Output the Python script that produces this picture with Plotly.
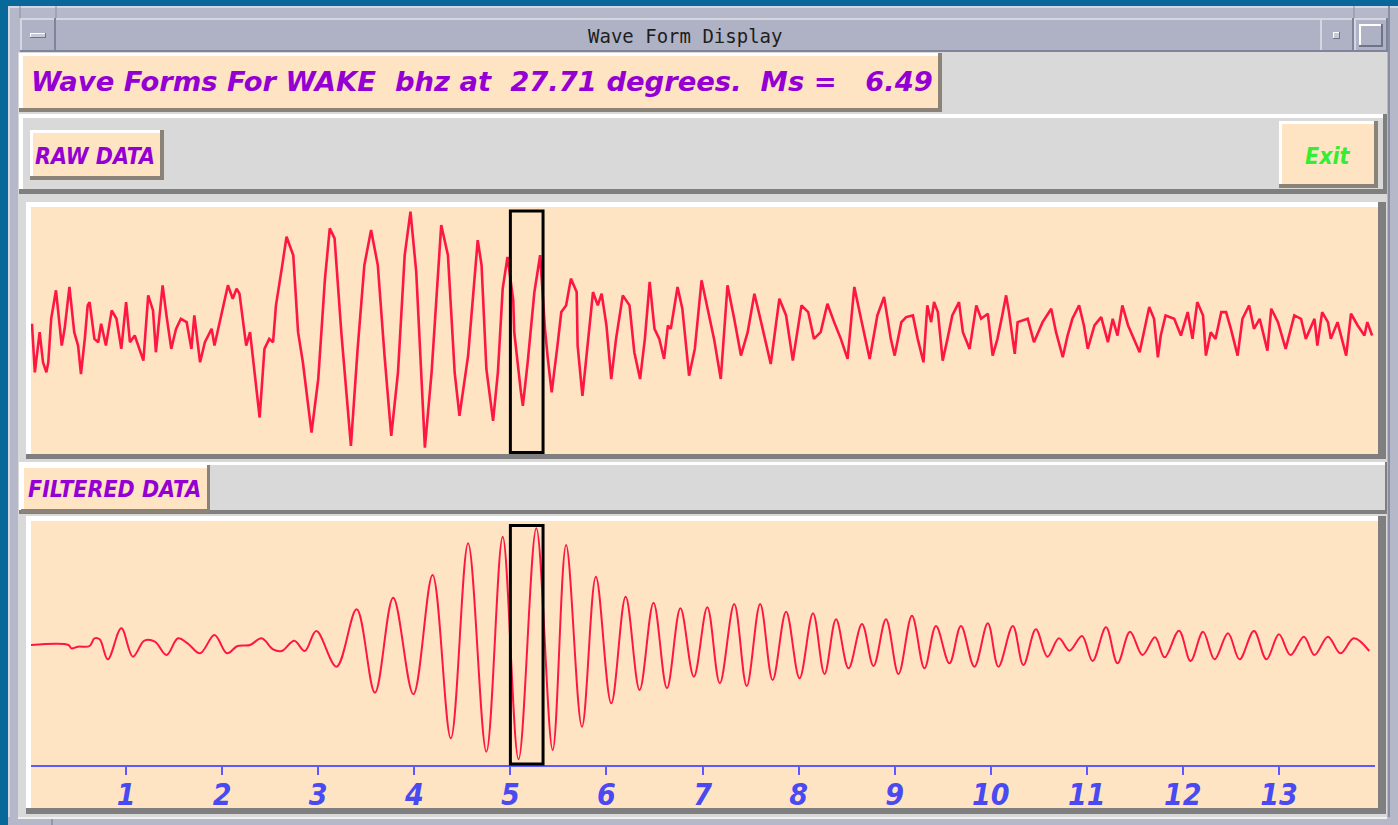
import plotly.graph_objects as go

# ---------------- data ----------------
# time in minutes, amplitude in arbitrary counts
raw_t = [0.02, 0.05, 0.10, 0.135, 0.17, 0.19, 0.22, 0.27, 0.33, 0.36, 0.41, 0.46, 0.50, 0.53, 0.57,
         0.60, 0.62, 0.67, 0.71, 0.74, 0.79, 0.85, 0.90, 0.95, 1.00, 1.04, 1.09, 1.14, 1.18, 1.23,
         1.28, 1.31, 1.38, 1.42, 1.47, 1.52, 1.57, 1.63, 1.68, 1.71, 1.77, 1.82, 1.89, 1.92, 1.97,
         2.03, 2.06, 2.11, 2.15, 2.18, 2.25, 2.29, 2.34, 2.39, 2.44, 2.49, 2.53, 2.56, 2.62, 2.67,
         2.74, 2.79, 2.84, 2.93, 3.00, 3.07, 3.12, 3.17, 3.24, 3.34, 3.41, 3.48, 3.55, 3.62, 3.69,
         3.76, 3.83, 3.90, 3.96, 4.02, 4.11, 4.18, 4.28, 4.35, 4.42, 4.47, 4.56,
         4.66, 4.70, 4.75, 4.82, 4.87, 4.92, 4.97, 5.03, 5.04, 5.11, 5.13, 5.18, 5.25, 5.31, 5.36,
         5.39, 5.43, 5.49, 5.53, 5.58, 5.63, 5.69, 5.70, 5.75, 5.81, 5.86, 5.91, 5.95, 6.00, 6.05,
         6.10, 6.17, 6.24, 6.29, 6.35, 6.40, 6.45, 6.50, 6.55, 6.60, 6.64, 6.67, 6.74, 6.79, 6.86,
         6.92, 6.99, 7.06, 7.12, 7.19, 7.26, 7.33, 7.40, 7.47, 7.54, 7.61, 7.71, 7.80, 7.87, 7.94,
         8.03, 8.10, 8.16, 8.23, 8.30, 8.37, 8.44, 8.51, 8.58, 8.65, 8.74, 8.82, 8.89, 8.96, 9.00,
         9.07, 9.12, 9.19, 9.24, 9.30,
         9.34, 9.38, 9.41, 9.45, 9.50, 9.55, 9.60, 9.67, 9.71, 9.78, 9.85, 9.90, 9.97, 10.02, 10.07,
         10.12, 10.16, 10.19, 10.25, 10.28, 10.385, 10.45, 10.54, 10.63, 10.68, 10.75, 10.80, 10.85,
         10.92, 10.97, 11.01, 11.08, 11.15, 11.22, 11.27, 11.32, 11.37, 11.43, 11.55, 11.65, 11.70,
         11.74, 11.77, 11.82, 11.91, 11.98, 12.05, 12.10, 12.15, 12.21, 12.24, 12.29, 12.34, 12.40,
         12.45, 12.50, 12.57, 12.62, 12.69, 12.74, 12.80, 12.88, 12.92, 12.99, 13.07, 13.16, 13.23,
         13.28, 13.37, 13.40, 13.45, 13.51, 13.54, 13.61, 13.70, 13.75, 13.82, 13.89, 13.92, 13.97]
raw_amp = [20, -125, -5, -95, -125, -95, 35, 120, -45, 5, 130, -5, -45, -130, -25,
           75, 85, -25, -35, 20, -45, 60, 35, -55, 85, -35, -15, -55, -90, 105,
           60, -65, 135, 45, -55, 5, 35, 25, -55, 45, -95, -35, 5, -45, 20,
           105, 135, 95, 125, 110, -45, -5, -125, -260, -55, -25, -35, 75, 185, 280,
           225, -5, -95, -305, -145, 155, 305, 275, -5, -345, -55, 195, 300, 195, -75,
           -315, -125, 225, 355, 175, -350, -125, 315, 225, -125, -255, -75,
           270, 195, -115, -270, -125, 125, 220, 90, -5, -185, -225, -95, 115, 225, 5,
           -85, -185, -45, 55, 75, 155, 115, -45, -195, -25, 115, 75, 110, 15, -145,
           -25, 105, 75, -65, -145, -25, 145, 5, -25, -85, 15, 5, 130, 65, -135,
           -55, 150, 55, -25, -145, 135, 35, -75, -5, 110, 25, -100, 95, 45, -90,
           75, 55, -25, -5, 80, 25, -25, -85, 130, 35, -85, 45, 100, -25, -75,
           25, 40, 45, -25, -95,
           75, 25, 85, 55, -90, -25, 45, 85, -5, -55, 75, 35, 50, -75, -25,
           45, 105, 55, -70, 25, 35, -35, 25, 65, -5, -80, -15, 35,
           75, 15, -55, 15, 40, -35, 35, -15, 75, 15, -65, 70, 35,
           -80, -15, 45, 35, -15, 55, -25, 85, 45, -75, -5, -25, 55,
           55, 5, -75, 35, 75, 5, 35, -60, 65, 25, -55, 45, 35,
           -25, 35, -45, 55, 25, -25, 25, -75, 50, 15, -15, 25, -15]

filt_t = [0.01, 0.40, 0.43, 0.50, 0.62, 0.67, 0.725, 0.81, 0.95, 1.07, 1.19, 1.30, 1.42, 1.54,
          1.64, 1.77, 1.92, 2.05, 2.16, 2.29, 2.41, 2.53, 2.62, 2.75, 2.86, 2.98, 3.19, 3.40,
          3.59, 3.78, 3.99, 4.19, 4.38, 4.56, 4.75, 4.92, 5.085, 5.27, 5.44, 5.58, 5.745, 5.89,
          6.05, 6.20, 6.345, 6.49, 6.63, 6.77, 6.91, 7.05, 7.18, 7.33, 7.46, 7.60, 7.73, 7.87,
          8.01, 8.15, 8.27, 8.39, 8.52, 8.66, 8.78, 8.91, 9.04, 9.18, 9.31, 9.43, 9.57, 9.69,
          9.83, 9.97, 10.08, 10.23, 10.34, 10.47, 10.59, 10.71, 10.82, 10.95, 11.06, 11.20,
          11.32, 11.45, 11.58, 11.71, 11.81, 11.96, 12.08, 12.21, 12.33, 12.47, 12.59, 12.74,
          12.87, 13.00, 13.12, 13.26, 13.37, 13.51, 13.64, 13.78, 13.94]
filt_amp = [0, 0, -10, -5, -3, 20, 17, -43, 50, -35, 13, 10, -30, 20,
            5, -25, 30, -25, -3, 0, 20, -13, -18, 13, -18, 42, -65, 107,
            -143, 142, -148, 210, -280, 305, -320, 325, -343, 350, -315, 300, -245, 205,
            -175, 145, -135, 127, -130, 110, -95, 113, -115, 123, -123, 123, -105, 100,
            -100, 95, -87, 77, -70, 63, -63, 77, -87, 88, -70, 57, -55, 57,
            -65, 65, -65, 57, -60, 47, -35, 20, -17, 27, -48, 53,
            -55, 40, -30, 23, -37, 43, -48, 40, -43, 35, -43, 42,
            -43, 32, -30, 25, -30, 25, -25, 20, -18]

tick_vals = [1, 2, 3, 4, 5, 6, 7, 8, 9, 10, 11, 12, 13]
tick_text = ["1", "2", "3", "4", "5", "6", "7", "8", "9", "10", "11", "12", "13"]
window_start, window_end = 5.0, 5.34

window_title = "Wave Form Display"
header_text = "Wave Forms For WAKE  bhz at  27.71 degrees.  Ms =   6.49"
raw_label = "RAW DATA"
filt_label = "FILTERED DATA"
exit_label = "Exit"

# ---------------- styling / layout helpers ----------------
W, H = 1398, 825
PEACH = "#ffe4c4"
GREY = "#d9d9d9"
FRAME = "#b4b8c8"
WAVE = "#ff1744"
PURPLE = "#9400d3"
BLUE = "#5a5aff"
NARROW = "Liberation Sans Narrow, Arial Narrow, DejaVu Sans Condensed, Liberation Sans, sans-serif"

shapes = []
annotations = []


def fx(x):
    return x / W


def fy(y):
    return 1 - y / H


def rect(x0, y0, x1, y1, fill, line_color=None, lw=0, layer="below"):
    shapes.append(dict(type="rect", xref="paper", yref="paper",
                       x0=fx(x0), x1=fx(x1), y0=fy(y1), y1=fy(y0),
                       fillcolor=fill, layer=layer,
                       line=dict(width=lw, color=line_color or fill)))


def bevel(o, i, fill, light="#ffffff", dark="#7f7f7f"):
    ox0, oy0, ox1, oy1 = o
    ix0, iy0, ix1, iy1 = i
    rect(ox0, oy0, ox1, oy1, dark)
    rect(ox0, oy0, ix1, iy1, light)
    rect(ix0, iy0, ix1, iy1, fill)


def label(text, x, y, size, color, family, anchor="center", weight="bold", style="italic"):
    annotations.append(dict(text=text, x=fx(x), y=fy(y), xref="paper", yref="paper",
                            xanchor=anchor, yanchor="middle", showarrow=False,
                            font=dict(family=family, size=size, color=color,
                                      weight=weight, style=style)))


# window frame
rect(8, 6, 1398, 825, FRAME)
rect(8, 6, 1398, 8, "#d4d7e2")
rect(8, 6, 10, 825, "#d4d7e2")
rect(1388, 6, 1390, 825, "#8a8ea2")
# title bar
bevel((20, 18, 1386, 52), (22, 20, 1384, 50), "#aeb2c4", light="#d4d7e2", dark="#80849a")
bevel((20, 18, 56, 52), (22, 20, 54, 50), "#aeb2c4", light="#d4d7e2", dark="#80849a")
bevel((30, 33, 46, 38), (31, 34, 45, 37), "#c8cbd6", light="#ffffff", dark="#70748a")
bevel((1320, 18, 1354, 52), (1322, 20, 1352, 50), "#aeb2c4", light="#d4d7e2", dark="#80849a")
bevel((1333, 32, 1340, 39), (1334, 33, 1339, 38), "#c8cbd6", light="#ffffff", dark="#70748a")
bevel((1354, 18, 1388, 52), (1356, 20, 1386, 50), "#aeb2c4", light="#d4d7e2", dark="#80849a")
bevel((1359, 24, 1383, 47), (1361, 26, 1381, 45), "#aeb2c4", light="#ffffff", dark="#70748a")
for xl in (20, 56, 1354):
    shapes.append(dict(type="line", xref="paper", yref="paper", x0=fx(xl), x1=fx(xl), y0=fy(6), y1=fy(18),
                       line=dict(color="#8a8ea2", width=1), layer="below"))
# content area
rect(18, 52, 1387, 817, GREY)
# header label
bevel((19, 53, 942, 112), (23, 56, 938, 108), PEACH, dark="#8b8378")
# row with buttons
bevel((19, 114, 1387, 194), (23, 118, 1383, 189), GREY)
bevel((30, 130, 164, 180), (33, 133, 160, 176), PEACH, dark="#8b8378")
bevel((1279, 121, 1378, 188), (1282, 124, 1374, 184), PEACH, dark="#8b8378")
# raw plot panel
bevel((26, 202, 1386, 459), (31, 207, 1378, 454), PEACH)
# filtered label row
bevel((19, 462, 1387, 514), (21, 465, 1385, 510), GREY)
bevel((21, 465, 210, 513), (24, 468, 207, 509), PEACH, dark="#8b8378")
# filtered plot panel
bevel((26, 516, 1386, 814), (31, 521, 1378, 808), PEACH)
# bottom frame
rect(8, 817, 1398, 825, FRAME)
rect(18, 817, 1387, 819, "#f0f0f0")
shapes.append(dict(type="line", xref="paper", yref="paper", x0=fx(52), x1=fx(52), y0=fy(819), y1=fy(825),
                   line=dict(color="#70748a", width=1), layer="below"))

# texts
label(window_title, 685, 36, 19, "#1e1e1e", "DejaVu Sans Mono, Liberation Mono, monospace",
      weight="normal", style="normal")
label(header_text.replace(" ", "\u00a0"), 29, 82, 27.4, PURPLE, "DejaVu Sans, Liberation Sans, sans-serif",
      anchor="left")
label(raw_label.replace(" ", "\u00a0"), 95, 156, 23, PURPLE, NARROW)
label(exit_label, 1328, 156, 23, "#33ee33", NARROW)
label(filt_label.replace(" ", "\u00a0"), 114, 489, 23, PURPLE, NARROW)

# ---------------- figure ----------------
fig = go.Figure()
fig.add_trace(go.Scatter(x=raw_t, y=raw_amp, mode="lines", xaxis="x", yaxis="y",
                         line=dict(color=WAVE, width=2.6), hoverinfo="skip"))
fig.add_trace(go.Scatter(x=filt_t, y=filt_amp, mode="lines", xaxis="x2", yaxis="y2",
                         line=dict(color=WAVE, width=2, shape="spline", smoothing=1.0), hoverinfo="skip"))

# selection window in both panels
for xr, yr in (("x", "y domain"), ("x2", "y2 domain")):
    shapes.append(dict(type="rect", xref=xr, yref=yr, x0=window_start, x1=window_end,
                       y0=0.006 if xr == "x" else 0.004, y1=0.988 if xr == "x" else 0.986,
                       line=dict(color="#000000", width=3), fillcolor="rgba(0,0,0,0)", layer="above"))

xdom = [31 / W, 1375 / W]
fig.update_layout(
    width=W, height=H, autosize=False,
    margin=dict(l=0, r=0, t=0, b=0, pad=0),
    paper_bgcolor="#09689a", plot_bgcolor="rgba(0,0,0,0)",
    showlegend=False,
    shapes=shapes, annotations=annotations,
    xaxis=dict(domain=xdom, range=[0.01, 14.0], anchor="y", visible=False, fixedrange=True),
    yaxis=dict(domain=[fy(454), fy(208)], range=[-369, 366], anchor="x", visible=False, fixedrange=True),
    xaxis2=dict(domain=xdom, range=[0.01, 14.0], anchor="y2", showline=True, linecolor=BLUE,
                linewidth=2, ticks="outside", ticklen=8, tickwidth=2, tickcolor=BLUE,
                tickvals=tick_vals, ticktext=tick_text, showgrid=False, zeroline=False,
                ticklabelstandoff=-6,
                tickfont=dict(family=NARROW, size=30, color="#4a4af2", weight="bold", style="italic"),
                fixedrange=True),
    yaxis2=dict(domain=[fy(765), fy(522)], range=[-360, 369], anchor="x2", visible=False, fixedrange=True),
)

fig.write_html("out.html", config={"displayModeBar": False})
